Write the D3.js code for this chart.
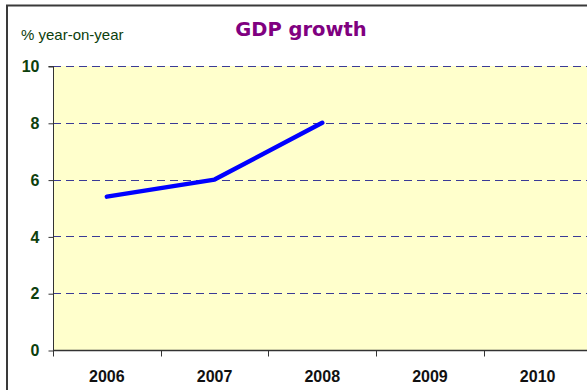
<!DOCTYPE html>
<html>
<head>
<meta charset="utf-8">
<script src="https://cdn.jsdelivr.net/npm/d3@7"></script>
<style>
  html, body { margin: 0; padding: 0; background: #fff; overflow: hidden; }
  svg { display: block; font-family: Arial, "Liberation Sans", sans-serif; }
</style>
</head>
<body>
<svg id="chart" width="587" height="390"></svg>
<script>
// GDP growth, % year-on-year
const years = ["2006", "2007", "2008", "2009", "2010"];
const growth = [5.4, 6.0, 8.0, null, null];
const yTicks = [0, 2, 4, 6, 8, 10];

const svg = d3.select("#chart");

// Outer chart frame (extends beyond the window on right and bottom)
svg.append("rect")
  .attr("x", 7).attr("y", 5.5)
  .attr("width", 600).attr("height", 400)
  .attr("fill", "#fff")
  .attr("stroke", "#3a3a3a").attr("stroke-width", 2);

const plot = { left: 53, top: 66, right: 591.5, bottom: 350 };

const x = d3.scaleBand().domain(years).range([plot.left, plot.right]).paddingInner(0).paddingOuter(0);
const y = d3.scaleLinear().domain([0, 10]).range([plot.bottom, plot.top]);

// Plot background
svg.append("rect")
  .attr("x", plot.left).attr("y", plot.top)
  .attr("width", plot.right - plot.left).attr("height", plot.bottom - plot.top)
  .attr("fill", "#ffffcc");

// Horizontal dashed gridlines
svg.append("g")
  .selectAll("line")
  .data(yTicks.filter(d => d > 0))
  .join("line")
  .attr("x1", plot.left).attr("x2", plot.right)
  .attr("y1", d => Math.round(y(d)) + 0.5).attr("y2", d => Math.round(y(d)) + 0.5)
  .attr("stroke", "#3a3a96").attr("stroke-width", 1.2)
  .attr("stroke-dasharray", "8,5");

// Y axis
const yAxis = svg.append("g")
  .attr("transform", `translate(${plot.left + 0.5},0.5)`)
  .call(d3.axisLeft(y).tickValues(yTicks).tickSize(5).tickPadding(9).tickFormat(d3.format("d")));
yAxis.select(".domain").attr("stroke", "#333").attr("d", `M-5,${y(10)}H0V${y(0)}`);
yAxis.selectAll(".tick line").attr("stroke", "#333");
yAxis.selectAll(".tick text")
  .attr("fill", "#0d400d")
  .attr("font-size", 16).attr("font-weight", "bold")
  .attr("font-family", "Arial, 'Liberation Sans', sans-serif");

// X axis with ticks on category boundaries
const xAxis = svg.append("g")
  .attr("transform", `translate(0,${plot.bottom + 0.5})`);
xAxis.append("line")
  .attr("x1", plot.left).attr("x2", plot.right)
  .attr("stroke", "#333").attr("stroke-width", 1.5);
xAxis.selectAll(".tickmark")
  .data(years)
  .join("line")
  .attr("class", "tickmark")
  .attr("x1", d => Math.round(x(d)) + 0.5).attr("x2", d => Math.round(x(d)) + 0.5)
  .attr("y1", 0).attr("y2", 6)
  .attr("stroke", "#333");
xAxis.selectAll(".label")
  .data(years)
  .join("text")
  .attr("class", "label")
  .attr("x", d => x(d) + x.bandwidth() / 2)
  .attr("y", 31.5)
  .attr("text-anchor", "middle")
  .attr("font-size", 16).attr("font-weight", "bold")
  .attr("fill", "#111")
  .text(d => d);

// Growth line
const line = d3.line()
  .defined(d => d.v != null)
  .x(d => x(d.year) + x.bandwidth() / 2)
  .y(d => y(d.v));
svg.append("path")
  .datum(years.map((yr, i) => ({ year: yr, v: growth[i] })))
  .attr("d", line)
  .attr("fill", "none")
  .attr("stroke", "#0000ff")
  .attr("stroke-width", 4.5)
  .attr("stroke-linecap", "round")
  .attr("stroke-linejoin", "round");

// Title and unit label
svg.append("text")
  .attr("x", 301).attr("y", 36)
  .attr("text-anchor", "middle")
  .attr("font-size", 19.5).attr("font-weight", "bold")
  .attr("font-family", "Verdana, 'DejaVu Sans', sans-serif")
  .attr("fill", "#800080")
  .text("GDP growth");

svg.append("text")
  .attr("x", 21).attr("y", 40)
  .attr("font-size", 15)
  .attr("fill", "#0d400d")
  .text("% year-on-year");
</script>
</body>
</html>
